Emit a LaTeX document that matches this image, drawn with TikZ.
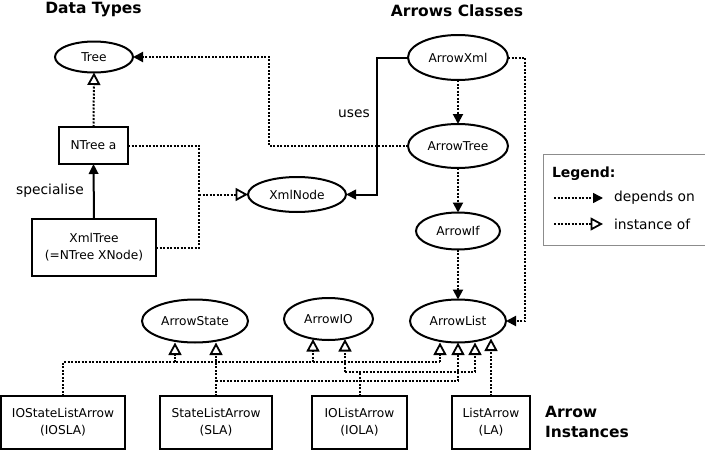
\documentclass[tikz,border=0pt]{standalone}
\usepackage{fontspec}
\setmainfont{DejaVu Sans}
\usetikzlibrary{arrows.meta,shapes.geometric}
\begin{document}
\begin{tikzpicture}[x=1pt,y=-1pt,
  every node/.style={inner sep=0pt,outer sep=0pt},
  ell/.style={ellipse,draw,line width=2pt,font=\fontsize{12.2pt}{17pt}\selectfont,align=center},
  box/.style={rectangle,draw,line width=2pt,font=\fontsize{12.2pt}{17pt}\selectfont,align=center},
  lbl/.style={font=\fontsize{13.8pt}{17pt}\selectfont},
  ttl/.style={font=\fontsize{15.5pt}{20pt}\selectfont\bfseries},
  dep/.style={line width=2pt,dash pattern=on 2pt off 1.5pt,-{Triangle[length=10pt,width=10pt]}},
  inst/.style={line width=2pt,dash pattern=on 2pt off 1.5pt,-{Triangle[open,length=12.5pt,width=13pt,line width=1.8pt]}},
  dotl/.style={line width=2pt,dash pattern=on 2pt off 1.5pt},
  solidarr/.style={line width=2pt,-{Triangle[length=10pt,width=9.5pt]}},
]
\useasboundingbox (0,0) rectangle (705,450);

% titles
\node[ttl] (tData) at (93.5,10) {Data Types};
\node[ttl] (tArr) at (457,11) {Arrows Classes};
\node[ttl,anchor=west,align=left] (tInst) at (545,422) {Arrow\\Instances};

% data types
\node[ell,minimum width=78pt,minimum height=31pt] (Tree) at (94,57) {Tree};
\node[box,minimum width=69pt,minimum height=37pt] (NTree) at (93.5,145.5) {NTree a};
\node[box,minimum width=124pt,minimum height=57pt] (XmlTree) at (94,247.5) {XmlTree\\(=NTree XNode)};
\node[ell,minimum width=98pt,minimum height=35pt] (XmlNode) at (297,194.5) {XmlNode};
\node[lbl] (lSpec) at (50,191) {specialise};
\node[lbl] (lUses) at (354,114) {uses};

% arrow classes
\node[ell,minimum width=100pt,minimum height=45pt] (AXml) at (458,57.5) {ArrowXml};
\node[ell,minimum width=100pt,minimum height=44pt] (ATree) at (458,146) {ArrowTree};
\node[ell,minimum width=84pt,minimum height=37pt] (AIf) at (458,231) {ArrowIf};
\node[ell,minimum width=96pt,minimum height=43pt] (AList) at (458,321) {ArrowList};
\node[ell,minimum width=106pt,minimum height=43pt] (AState) at (195,321) {ArrowState};
\node[ell,minimum width=89pt,minimum height=42pt] (AIO) at (328.5,319) {ArrowIO};

% instances
\node[box,minimum width=124pt,minimum height=53pt] (IOSLA) at (63,422.5) {IOStateListArrow\\(IOSLA)};
\node[box,minimum width=112pt,minimum height=53pt] (SLA) at (216,422.5) {StateListArrow\\(SLA)};
\node[box,minimum width=95pt,minimum height=53pt] (IOLA) at (359.5,422.5) {IOListArrow\\(IOLA)};
\node[box,minimum width=78pt,minimum height=53pt] (LA) at (491,422.5) {ListArrow\\(LA)};

% legend
\draw[line width=1pt,draw=black!45] (543,154.5) rectangle (712,245.5);
\node[font=\fontsize{14pt}{17pt}\selectfont\bfseries,anchor=west] (lLeg) at (552,174) {Legend:};
\node[lbl,anchor=west] (lDep) at (614,198) {depends on};
\node[lbl,anchor=west] (lIns) at (614,224) {instance of};
\coordinate (d0) at (554,198);
\coordinate (i0) at (554,224);
\draw[dep,line width=1.5pt] (d0) -- ([xshift=-11pt]lDep.west);
\draw[inst,line width=1.5pt] (i0) -- ([xshift=-11pt]lIns.west);

% data type connectors
\draw[inst] (NTree.north) -- (Tree.south);
\draw[solidarr] (XmlTree.north) -- (NTree.south);
\coordinate (jx) at (199,194.5);
\draw[dotl] (NTree.east) -| (jx);
\draw[dotl] (XmlTree.east) -| (jx);
\draw[inst] (jx) -- (XmlNode.west);
\coordinate (tj) at (269,146);
\draw[dep] (ATree.west) -- (tj) |- (Tree.east);
\coordinate (uj) at (377,57.5);
\draw[solidarr] (AXml.west) -- (uj) |- (XmlNode.east);

% class chain
\draw[dep] (AXml.south) -- (ATree.north);
\draw[dep] (ATree.south) -- (AIf.north);
\draw[dep] (AIf.south) -- (AList.north);
\coordinate (rj) at (525,57.5);
\draw[dep] (AXml.east) -- (rj) |- (AList.east);

% instance connectors
\coordinate (h1) at (63,362);
\coordinate (h1e) at (440,362);
\coordinate (h1a) at (175,362);
\coordinate (h1b) at (313,362);
\draw[dotl] (IOSLA.north) -- (h1) -- (h1e);
\draw[inst] (h1a) -- (h1a |- AState.south);
\draw[inst] (h1b) -- ([yshift=1pt]h1b |- AIO.south);
\draw[inst] (h1e) -- (h1e |- AList.south);

\coordinate (h3) at (458,381);
\draw[inst] (SLA.north) -- (SLA.north |- AState.south);
\draw[dotl] (SLA.north |- h3) -- (h3);
\draw[inst] (h3) -- (AList.south);

\coordinate (h2) at (359.5,372);
\coordinate (h2a) at (345,372);
\coordinate (h2b) at (475,372);
\draw[dotl] (IOLA.north) -- (h2);
\draw[dotl] (h2a) -- (h2b);
\draw[inst] (h2a) -- ([yshift=1pt]h2a |- AIO.south);
\draw[inst] (h2b) -- (h2b |- AList.south);

\draw[inst] (LA.north) -- ([yshift=4pt]LA.north |- AList.south);
\end{tikzpicture}
\end{document}
